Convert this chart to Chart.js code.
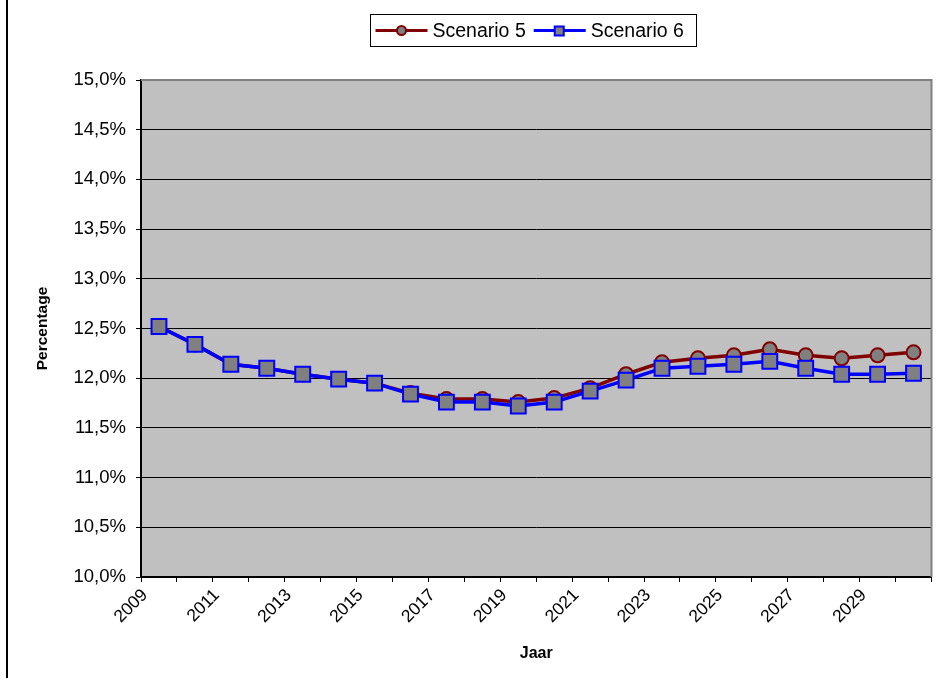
<!DOCTYPE html>
<html>
<head>
<meta charset="utf-8">
<script src="https://cdn.jsdelivr.net/npm/chart.js@4"></script>
<style>
  html, body { margin: 0; padding: 0; background: #fff; overflow: hidden; }
  #wrap { width: 940px; height: 679px; position: relative; overflow: hidden; }
</style>
</head>
<body>
<div id="wrap"><canvas id="linechart" width="944" height="679"></canvas></div>
<script>
const years = [
  "2009", "2010", "2011", "2012", "2013", "2014", "2015", "2016",
  "2017", "2018", "2019", "2020", "2021", "2022", "2023", "2024",
  "2025", "2026", "2027", "2028", "2029", "2030",
];
const scenario5 = [
  12.52, 12.34, 12.14, 12.10, 12.04, 11.99, 11.95, 11.85,
  11.79, 11.79, 11.76, 11.80, 11.90, 12.04, 12.16, 12.20,
  12.23, 12.29, 12.23, 12.20, 12.23, 12.26,
];
const scenario6 = [
  12.52, 12.34, 12.14, 12.10, 12.04, 11.99, 11.95, 11.84,
  11.76, 11.76, 11.72, 11.76, 11.87, 11.98, 12.10, 12.12,
  12.14, 12.17, 12.10, 12.04, 12.04, 12.05,
];
const yTicks = [10, 10.5, 11, 11.5, 12, 12.5, 13, 13.5, 14, 14.5, 15];

const FONT = "'Liberation Sans', Arial, sans-serif";

// grey plot area + border, like the old Excel chart
const plotBg = {
  id: "plotBg",
  beforeDraw(chart) {
    const { ctx, chartArea: a } = chart;
    ctx.save();
    ctx.fillStyle = "#c0c0c0";
    ctx.fillRect(a.left, a.top, a.right - a.left, a.bottom - a.top);
    ctx.restore();
  },
  afterDatasetsDraw(chart) {
    const { ctx, chartArea: a } = chart;
    ctx.save();
    ctx.strokeStyle = "#808080";
    ctx.lineWidth = 2;
    ctx.beginPath();
    ctx.moveTo(a.left, a.top);
    ctx.lineTo(a.right, a.top);
    ctx.lineTo(a.right, a.bottom);
    ctx.stroke();
    // outer frame line on the left
    ctx.strokeStyle = "#000";
    ctx.lineWidth = 2;
    ctx.beginPath();
    ctx.moveTo(7, 0);
    ctx.lineTo(7, chart.height - 1);
    ctx.stroke();
    ctx.restore();
  },
};

// legend box with line + marker samples
const boxLegend = {
  id: "boxLegend",
  afterDraw(chart) {
    const { ctx, chartArea: a } = chart;
    const ds = chart.data.datasets;
    const w = 326, h = 32;
    const x0 = Math.round((a.left + a.right) / 2 - w / 2) - 2.5;
    const y0 = 14.5;
    ctx.save();
    ctx.fillStyle = "#fff";
    ctx.fillRect(x0, y0, w, h);
    ctx.strokeStyle = "#000";
    ctx.lineWidth = 1;
    ctx.strokeRect(x0, y0, w, h);
    ctx.font = "19.5px " + FONT;
    ctx.textBaseline = "middle";
    let x = x0 + 5;
    const cy = y0 + h / 2;
    ds.forEach((d) => {
      ctx.strokeStyle = d.borderColor;
      ctx.lineWidth = 3;
      ctx.beginPath();
      ctx.moveTo(x, cy);
      ctx.lineTo(x + 52, cy);
      ctx.stroke();
      ctx.fillStyle = d.pointBackgroundColor;
      ctx.lineWidth = 2;
      ctx.strokeStyle = d.pointBorderColor;
      if (d.pointStyle === "rect") {
        ctx.fillRect(x + 21, cy - 4, 9, 9);
        ctx.strokeRect(x + 21, cy - 4, 9, 9);
      } else {
        ctx.beginPath();
        ctx.arc(x + 26, cy, 4.5, 0, Math.PI * 2);
        ctx.fill();
        ctx.stroke();
      }
      ctx.fillStyle = "#000";
      ctx.fillText(d.label, x + 57, cy + 1);
      x += 57 + ctx.measureText(d.label).width + 8;
    });
    ctx.restore();
  },
};

const lctx = document.getElementById("linechart");

new Chart(lctx, {
  type: "line",
  data: {
    labels: years,
    datasets: [
      {
        label: "Scenario 5",
        data: scenario5,
        order: 1,
        borderWidth: 3.5,
        borderColor: "#800000",
        pointStyle: "circle",
        pointRadius: 7,
        pointBorderWidth: 2,
        pointBackgroundColor: "#808080",
        pointBorderColor: "#800000",
      },
      {
        label: "Scenario 6",
        data: scenario6,
        order: 0,
        borderWidth: 3.5,
        borderColor: "#0000ff",
        pointStyle: "rect",
        pointRadius: 10.5,
        pointBorderWidth: 2,
        pointBackgroundColor: "#808080",
        pointBorderColor: "#0000ff",
      },
    ],
  },
  plugins: [plotBg, boxLegend],
  options: {
    responsive: false,
    animation: false,
    layout: { padding: { left: 8, right: 9, top: 80, bottom: 0 } },
    plugins: {
      legend: { display: false },
      tooltip: { enabled: false },
    },
    scales: {
      x: {
        offset: true,
        afterFit: (s) => { s.height = 102; },
        grid: {
          drawOnChartArea: false,
          offset: true,
          color: "#000",
          tickLength: 5,
          tickColor: "#000",
        },
        border: { color: "#000", width: 2 },
        ticks: {
          autoSkip: false,
          minRotation: 45,
          maxRotation: 45,
          labelOffset: -14,
          padding: 3,
          color: "#000",
          font: { family: FONT, size: 17.5 },
          callback: (v, i) => (i % 2 === 0 ? years[i] : ""),
        },
        title: {
          display: true,
          text: "Jaar",
          color: "#000",
          font: { family: FONT, size: 16, weight: "bold" },
          padding: { top: 0, bottom: 16 },
        },
      },
      y: {
        min: 10,
        max: 15,
        afterFit: (s) => { s.width = 133; },
        afterBuildTicks: (s) => { s.ticks = yTicks.map((v) => ({ value: v })); },
        grid: {
          color: "#000",
          lineWidth: 1,
          tickLength: 5,
          tickColor: "#000",
        },
        border: { color: "#000", width: 2 },
        ticks: {
          padding: 10,
          color: "#000",
          font: { family: FONT, size: 18.5 },
          callback: (v) => v.toFixed(1).replace(".", ",") + "%",
        },
        title: {
          display: true,
          text: "Percentage",
          color: "#000",
          font: { family: FONT, size: 15.5, weight: "bold" },
          padding: { top: 25, bottom: 0 },
        },
      },
    },
  },
});
</script>
</body>
</html>
